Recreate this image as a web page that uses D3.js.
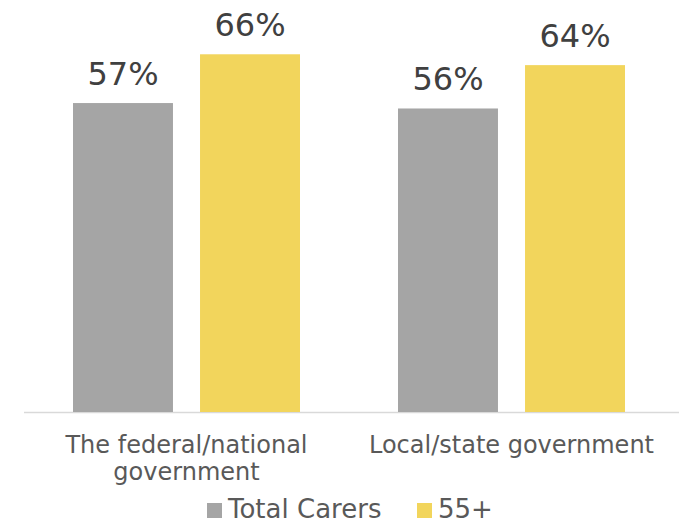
<!DOCTYPE html>
<html><head><meta charset="utf-8">
<script src="https://cdn.jsdelivr.net/npm/d3@7"></script>
<style>body{margin:0;background:#fff}svg{display:block}</style>
</head><body>
<script>
const categories = ["The federal/national government", "Local/state government"];
const categoryLines = [["The federal/national", "government"], ["Local/state government"]];
const seriesNames = ["Total Carers", "55+"];
const totalCarers = [57, 56];
const age55plus = [66, 64];
const seriesColors = ["#a5a5a5", "#f2d55c"];

const W = 679, H = 524;
const svg = d3.select("body").append("svg").attr("width", W).attr("height", H);
const font = "DejaVu Sans, Verdana, sans-serif";

const baseY = 412;
const y = d3.scaleLinear().domain([0, 100]).range([baseY, baseY - 542]);
const x0 = d3.scaleBand().domain(categories).range([24, 674]).padding(0);
const x1 = d3.scaleBand().domain(seriesNames).range([49, 276]).paddingInner(0.213).paddingOuter(0);

const data = categories.map((c, i) => ({cat: c, vals: [totalCarers[i], age55plus[i]]}));

svg.append("line").attr("x1", 24).attr("x2", 679).attr("y1", baseY + 0.5).attr("y2", baseY + 0.5)
  .attr("stroke", "#d9d9d9").attr("stroke-width", 1.3);

const g = svg.selectAll("g.cat").data(data).enter().append("g")
  .attr("transform", d => `translate(${x0(d.cat)},0)`);

g.selectAll("rect").data(d => d.vals.map((v, j) => ({s: seriesNames[j], v, j}))).enter().append("rect")
  .attr("x", d => x1(d.s)).attr("width", x1.bandwidth())
  .attr("y", d => y(d.v)).attr("height", d => baseY - y(d.v))
  .attr("fill", d => seriesColors[d.j]);

g.selectAll("text.val").data(d => d.vals.map((v, j) => ({s: seriesNames[j], v, j}))).enter().append("text")
  .attr("class", "val")
  .attr("x", d => x1(d.s) + x1.bandwidth() / 2).attr("y", d => y(d.v) - 18.5)
  .attr("text-anchor", "middle").attr("font-family", font).attr("font-size", 32)
  .attr("fill", "#404040").text(d => d.v + "%");

categories.forEach((c, i) => {
  const t = svg.append("text").attr("text-anchor", "middle").attr("font-family", font)
    .attr("font-size", 24).attr("fill", "#595959");
  categoryLines[i].forEach((ln, k) => {
    t.append("tspan").attr("x", x0(c) + x0.bandwidth() / 2).attr("y", 453 + k * 27).text(ln);
  });
});

// legend
const legendItems = [{x: 207, name: seriesNames[0], color: seriesColors[0]}, {x: 417, name: seriesNames[1], color: seriesColors[1]}];
legendItems.forEach(it => {
  svg.append("rect").attr("x", it.x).attr("y", 503).attr("width", 15).attr("height", 15).attr("fill", it.color);
  svg.append("text").attr("x", it.x + 21).attr("y", 517.5).attr("font-family", font).attr("font-size", 26)
    .attr("fill", "#595959").text(it.name);
});
</script>
</body></html>
